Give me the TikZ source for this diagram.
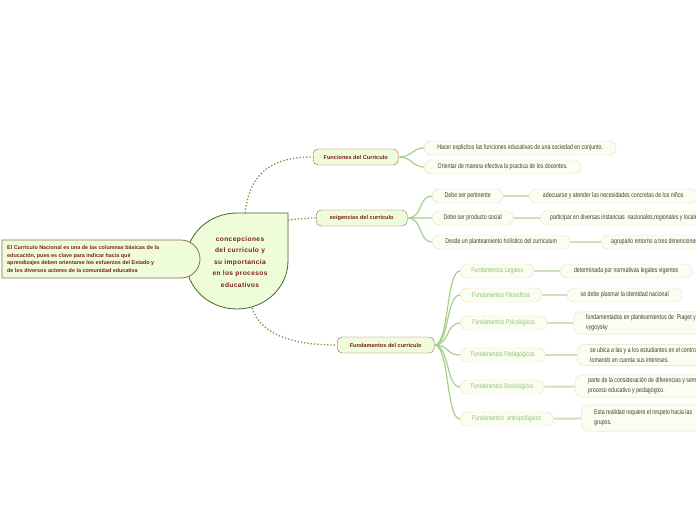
\documentclass[tikz,border=0pt]{standalone}
\usepackage{fontspec}
\setmainfont{Liberation Sans}
\newfontfamily\narrowfont[FakeStretch=0.76]{Liberation Sans}
\newfontfamily\spacedfont[LetterSpace=6]{Liberation Sans}

\definecolor{nodefill}{HTML}{EEFCDA}
\definecolor{topicline}{HTML}{A0615A}
\definecolor{darkred}{HTML}{7A1E1E}
\definecolor{leafline}{HTML}{EAE0B6}
\definecolor{leaffill}{HTML}{FBFDF3}
\definecolor{leaftext}{HTML}{4A3C30}
\definecolor{fundtext}{HTML}{8FC46C}
\definecolor{branchgreen}{HTML}{A6CF8B}
\definecolor{linkgreen}{HTML}{CDE4BB}
\definecolor{dotgreen}{HTML}{62A044}
\definecolor{centerline}{HTML}{3F6A25}
\definecolor{leftline}{HTML}{8D6B5B}

\begin{document}
\begin{tikzpicture}[x=1pt,y=-1pt,
  topic/.style={draw=topicline,fill=nodefill,rounded corners=5pt,anchor=west,minimum height=16pt,inner sep=0pt,text=darkred,font=\fontsize{5.6}{6.5}\selectfont\bfseries},
  leaf/.style={draw=leafline,fill=leaffill,rounded corners=7pt,anchor=west,minimum height=14pt,inner sep=0pt,text=leaftext,font=\narrowfont\fontsize{6.9}{9.8}\selectfont},
  fund/.style={leaf,text=fundtext},
  note/.style={leaf,align=left,inner xsep=13pt,inner ysep=3pt},
  branch/.style={draw=branchgreen,line width=1.2pt},
  link/.style={draw=linkgreen,line width=2pt},
  dots/.style={draw=dotgreen,dotted,line width=1.3pt}]

  \useasboundingbox (0,0) rectangle (696,520);
  \clip (0,0) rectangle (696,520);

  % central topic and the note on its left
  \path[draw=centerline,fill=nodefill,line width=0.8pt] (288,213) -- (288,261)
    arc[start angle=0,end angle=270,x radius=51,y radius=48] -- cycle;
  \path[draw=leftline,fill=nodefill,line width=0.8pt] (2,240) -- (181,240)
    arc[start angle=-90,end angle=90,radius=19] -- (2,278) -- cycle;

  \node[text=darkred,align=center,font=\spacedfont\fontsize{6.6}{11.5}\selectfont\bfseries] (cen) at (240,262)
    {concepciones\\del curriculo y\\su importancia\\en los procesos\\educativos};
  \node[text=darkred,align=left,anchor=west,inner sep=0pt,font=\fontsize{5.4}{7.6}\selectfont\bfseries] (nota) at (7,259)
    {El Currículo Nacional es una de las columnas básicas de la\\
     educación, pues es clave para indicar hacia qué\\
     aprendizajes deben orientarse los esfuerzos del Estado y\\
     de los diversos actores de la comunidad educativa};

  \coordinate (cfun) at (245,213);
  \coordinate (cexi) at (288,220);
  \coordinate (cfnd) at (252,308);

  % main branches
  \node[topic,minimum width=85pt] (fun) at (313,157) {Funciones del Curriculo};
  \node[topic,minimum width=91pt] (exi) at (316,218) {exigencias del curriculo};
  \node[topic,minimum width=97pt] (fnd) at (337,345) {Fundamentos del curriculo};

  % funciones
  \node[leaf,minimum width=192pt] (f1) at (424,148) {Hacer explicitos las funciones educativas de una sociedad en conjunto.};
  \node[leaf,minimum width=157pt] (f2) at (424,167) {Orientar de manera efectiva la practica de los docentes.};

  % exigencias
  \node[leaf,minimum width=71pt] (e1) at (432,196) {Debe ser pertinente};
  \node[leaf,minimum width=81pt] (e2) at (432,218) {Debe ser producto social};
  \node[leaf,minimum width=138pt] (e3) at (432,242) {Desde un planteamiento holístico del curriculum};
  \node[leaf,minimum width=168pt] (e1b) at (529,196) {adecuarse y atender las necesidades concretas de los niños};
  \node[leaf,anchor=west,inner xsep=10pt] (e2b) at (540,218) {participar en diversas instancias \ nacionales,regionales y locales};
  \node[leaf,anchor=west,inner xsep=10pt] (e3b) at (601,242) {agruparlo entorno a tres dimenciones};

  % fundamentos
  \node[fund,minimum width=74pt] (l1) at (460,271) {Fundamentos Legales};
  \node[fund,minimum width=82pt] (l2) at (460,295) {Fundamentos Filosóficos};
  \node[fund,minimum width=87pt] (l3) at (460,323) {Fundamentos Psicológicos};
  \node[fund,minimum width=85pt] (l4) at (460,355) {Fundamentos Pedagógicos};
  \node[fund,minimum width=84pt] (l5) at (460,387) {Fundamentos Sociológicos};
  \node[fund,minimum width=93pt] (l6) at (460,419) {Fundamentos \ antropológicos};
  \node[leaf,minimum width=132pt] (l1b) at (560,271) {determinada por normativas legales vigentes};
  \node[leaf,minimum width=115pt] (l2b) at (567,295) {se debe plasmar la identidad nacional};
  \node[note] (l3b) at (573,323) {fundamentados en planteamientos de \ Piaget y\\vygoysky};
  \node[note] (l4b) at (577,355) {se ubica a las y a los estudiantes en el centro\\tomando en cuenta sus intereses.};
  \node[note] (l5b) at (575,386) {parte de la consideración de diferencias y semejanzas\\proceso educativo y pedagógico.};
  \node[note,inner ysep=5pt] (l6b) at (581,418) {Esta realidad requiere el respeto hacia las\\grupos.};

  % connectors
  \path[dots]
    (cfun) .. controls (250,170) and (275,157) .. (fun.west)
    (cexi) .. controls (298,219) and (306,218) .. (exi.west)
    (cfnd) .. controls (262,338) and (300,345) .. (fnd.west);

  \path[branch]
    (fun.east) .. controls +(14,0) and +(-12,0) .. (f1.west)
    (fun.east) .. controls +(14,0) and +(-12,0) .. (f2.west)
    (exi.east) .. controls +(16,0) and +(-14,0) .. (e1.west)
    (exi.east) -- (e2.west)
    (exi.east) .. controls +(16,0) and +(-14,0) .. (e3.west);
  \foreach \n in {l1,l2,l3,l4,l5,l6}
    \path[branch] (fnd.east) .. controls +(15,0) and +(-14,0) .. (\n.west);

  \path[link]
    (e1) edge (e1b) (e2) edge (e2b) (e3) edge (e3b)
    (l1) edge (l1b) (l2) edge (l2b) (l3) edge (l3b)
    (l4) edge (l4b) (l5) edge (l5b) (l6) edge (l6b);
\end{tikzpicture}
\end{document}
